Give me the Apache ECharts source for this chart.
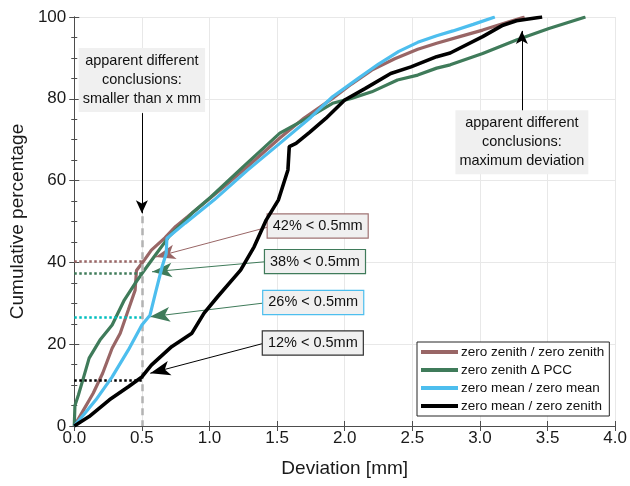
<!DOCTYPE html>
<html><head><meta charset="utf-8">
<script src="https://cdn.jsdelivr.net/npm/echarts@6/dist/echarts.min.js"></script>
<style>html,body{margin:0;padding:0;background:#fff}#c{width:630px;height:486px}</style>
</head><body><div id="c"></div>
<script>
// ---- data ----
const seriesNames = ['zero zenith / zero zenith', 'zero zenith \u0394 PCC', 'zero mean / zero mean', 'zero mean / zero zenith'];

const zzX = [0, 0.07, 0.14, 0.21, 0.28, 0.34, 0.40, 0.45, 0.46, 0.51, 0.57, 0.67, 0.75, 0.84, 0.99, 1.10, 1.28, 1.52, 1.70, 1.91, 2.05, 2.20, 2.37, 2.54, 2.68, 2.85, 3.02, 3.22, 3.33];
const zzY = [0, 4.0, 8.0, 12.9, 19.0, 22.7, 28.4, 33.2, 38.0, 40.2, 43.0, 46.0, 48.8, 51.2, 55.3, 58.3, 63.4, 70.4, 75.3, 80.1, 83.6, 87.0, 89.8, 92.1, 93.6, 95.2, 96.8, 98.9, 100];

const pccX = [0, 0.005, 0.03, 0.07, 0.11, 0.19, 0.28, 0.37, 0.45, 0.51, 0.60, 0.70, 0.87, 1.01, 1.25, 1.52, 1.74, 1.91, 2.05, 2.20, 2.39, 2.54, 2.68, 2.78, 3.02, 3.27, 3.51, 3.78];
const pccY = [0, 5.0, 7.5, 12.0, 16.6, 21.0, 24.7, 30.8, 34.9, 37.7, 41.8, 46.3, 52.0, 56.0, 63.4, 71.6, 75.6, 78.9, 80.1, 81.7, 84.6, 85.8, 87.5, 88.3, 91.1, 94.4, 97.2, 100];

const zmX = [0, 0.08, 0.16, 0.28, 0.40, 0.50, 0.56, 0.60, 0.65, 0.68, 0.685, 0.82, 1.035, 1.28, 1.52, 1.75, 1.91, 2.10, 2.25, 2.40, 2.54, 2.68, 2.80, 2.95, 3.11];
const zmY = [0, 3.2, 6.4, 12.0, 18.6, 24.7, 27.1, 32.5, 39.0, 42.2, 45.9, 49.6, 55.3, 62.5, 69.1, 75.5, 80.5, 85.0, 88.5, 91.6, 93.8, 95.4, 96.6, 98.2, 100];

const mzX = [0, 0.11, 0.26, 0.40, 0.50, 0.57, 0.72, 0.87, 0.96, 1.06, 1.23, 1.33, 1.42, 1.51, 1.58, 1.59, 1.64, 1.74, 1.86, 2.00, 2.15, 2.34, 2.49, 2.68, 2.78, 3.02, 3.17, 3.27, 3.46];
const mzY = [0, 2.3, 6.4, 9.6, 12.0, 14.9, 19.4, 22.7, 27.6, 31.6, 38.1, 43.8, 50.4, 55.3, 62.6, 68.3, 69.1, 71.8, 75.2, 79.7, 82.5, 86.2, 87.8, 90.3, 91.2, 95.2, 98.0, 99.1, 100];

// threshold levels (cumulative % below 0.5 mm)
const thresholdX = 0.5;
const thresholdLevels = [40.2, 37.3, 26.5, 11.2];

// annotation boxes: text and anchor (data coords)
const boxTexts = ['apparent different\nconclusions:\nsmaller than x mm', 'apparent different\nconclusions:\nmaximum deviation', '42% < 0.5mm', '38% < 0.5mm', '26% < 0.5mm', '12% < 0.5mm'];
const boxX = [0.5, 3.31, 1.80, 1.78, 1.767, 1.764];
const boxY = [84.6, 69.4, 48.9, 40.2, 30.2, 20.3];

// arrows: from -> to (data coords)
const arrowFromX = [0.5, 3.31, 1.44, 1.425, 1.41, 1.41];
const arrowFromY = [76.5, 77.0, 48.7, 40.2, 30.1, 20.3];
const arrowToX = [0.5, 3.31, 0.60, 0.575, 0.56, 0.562];
const arrowToY = [52.0, 96.6, 41.3, 37.7, 26.7, 12.9];

// ---- styles ----
const FONT = '"Liberation Sans", Arial, Helvetica, sans-serif';
const colors = ['#996666', '#3f7b5a', '#4dbeee', '#000000'];
const dotColors = ['#996666', '#3f7b5a', '#00bfbf', '#000000'];
const boxBorders = [null, null, '#a07474', '#3f7b5a', '#4dbeee', '#333333'];
const arrowColors = ['#000000', '#000000', '#996666', '#3f7b5a', '#3f7b5a', '#000000'];
const AX = '#4d4d4d';

const zip = (xs, ys) => xs.map((x, i) => [x, ys[i]]);

const chart = echarts.init(document.getElementById('c'), null, {renderer: 'canvas'});

const markLines = [];
thresholdLevels.forEach((lv, i) => {
  markLines.push([
    {coord: [0, lv], symbol: 'none', lineStyle: {color: dotColors[i], width: 2.5, type: [2.5, 2.5]}},
    {coord: [thresholdX, lv], symbol: 'none'}
  ]);
});
markLines.push([
  {coord: [thresholdX, 51.3], symbol: 'none', lineStyle: {color: '#b3b3b3', width: 2.5, type: [7, 5]}},
  {coord: [thresholdX, 0], symbol: 'none'}
]);
arrowFromX.forEach((x, i) => {
  const big = i >= 2;
  markLines.push([
    {coord: [x, arrowFromY[i]], symbol: 'none', lineStyle: {color: arrowColors[i], width: 1, type: 'solid'}},
    {coord: [arrowToX[i], arrowToY[i]], symbol: 'arrow', symbolSize: big ? [11, 20] : [9, 13],
     itemStyle: {color: arrowColors[i]}}
  ]);
});

const markPoints = boxTexts.map((t, i) => ({
  coord: [boxX[i], boxY[i]],
  value: t,
  symbol: 'rect',
  symbolSize: 1,
  itemStyle: {color: 'rgba(0,0,0,0)'},
  label: {
    show: true,
    position: 'inside',
    formatter: t,
    color: '#111',
    fontFamily: FONT,
    fontSize: 14.5,
    lineHeight: i < 2 ? 19 : 15,
    align: 'center',
    verticalAlign: 'middle',
    backgroundColor: '#f0f0f0',
    borderColor: boxBorders[i] || 'transparent',
    borderWidth: boxBorders[i] ? 1.2 : 0,
    padding: i < 2 ? [4, 4, 3, 4] : [4, 5, 4, 5]
  }
}));

const curveSeries = [zip(zzX, zzY), zip(pccX, pccY), zip(zmX, zmY), zip(mzX, mzY)].map((d, i) => ({
  name: seriesNames[i],
  type: 'line',
  data: d,
  showSymbol: false,
  symbol: 'none',
  lineStyle: {color: colors[i], width: i === 3 ? 3.6 : 3.2},
  itemStyle: {color: colors[i]},
  z: 3 + i
}));

const option = {
  animation: false,
  backgroundColor: '#ffffff',
  textStyle: {fontFamily: FONT},
  grid: {left: 71, right: 9, top: 17, bottom: 60, containLabel: false},
  xAxis: [{
    type: 'value', min: 0, max: 4, interval: 0.5, position: 'bottom',
    axisLine: {show: true, lineStyle: {color: AX, width: 1}},
    axisTick: {show: true, inside: false, length: 5, lineStyle: {color: AX}},
    axisLabel: {formatter: v => v.toFixed(1), fontSize: 17, color: '#1a1a1a', margin: 4, fontFamily: FONT},
    splitLine: {show: true, lineStyle: {color: '#e8e8e8', width: 1}},
    name: 'Deviation [mm]', nameLocation: 'middle', nameGap: 33,
    nameTextStyle: {fontSize: 19, color: '#1a1a1a', fontFamily: FONT}
  }, {
    type: 'value', min: 0, max: 4, interval: 0.5, position: 'top',
    axisLine: {show: true, lineStyle: {color: AX, width: 1}},
    axisTick: {show: true, inside: false, length: 5, lineStyle: {color: AX}},
    axisLabel: {show: false}, splitLine: {show: false}
  }],
  yAxis: [{
    type: 'value', min: 0, max: 100, interval: 20, position: 'left',
    axisLine: {show: true, lineStyle: {color: AX, width: 1}},
    axisTick: {show: true, inside: false, length: 5, lineStyle: {color: AX}},
    minorTick: {show: true, splitNumber: 4, length: 3, lineStyle: {color: AX}},
    axisLabel: {fontSize: 17, color: '#1a1a1a', margin: 8, fontFamily: FONT},
    splitLine: {show: true, lineStyle: {color: '#e8e8e8', width: 1}},
    name: 'Cumulative percentage', nameLocation: 'middle', nameGap: 44, nameRotate: 90,
    nameTextStyle: {fontSize: 19, color: '#1a1a1a', fontFamily: FONT}
  }, {
    type: 'value', min: 0, max: 100, interval: 20, position: 'right',
    axisLine: {show: true, lineStyle: {color: AX, width: 1}},
    axisTick: {show: true, inside: false, length: 5, lineStyle: {color: AX}},
    minorTick: {show: true, splitNumber: 4, length: 3, lineStyle: {color: AX}},
    axisLabel: {show: false}, splitLine: {show: false}
  }],
  legend: {
    data: seriesNames,
    orient: 'vertical',
    left: 417, top: 342,
    backgroundColor: '#ffffff',
    borderColor: '#262626', borderWidth: 1,
    padding: [3, 5, 3, 4],
    itemWidth: 37, itemHeight: 4, itemGap: 4,
    icon: 'rect',
    textStyle: {fontSize: 13.5, color: '#111', fontFamily: FONT, lineHeight: 14, padding: [0, 0, 0, -2]},
    selectedMode: false
  },
  series: curveSeries.concat([{
    name: 'annotations',
    type: 'line',
    data: [],
    silent: true,
    z: 10,
    markLine: {silent: true, animation: false, symbol: ['none', 'arrow'], label: {show: false}, data: markLines},
    markPoint: {silent: true, animation: false, data: markPoints}
  }])
};
chart.setOption(option);
</script>
</body></html>
